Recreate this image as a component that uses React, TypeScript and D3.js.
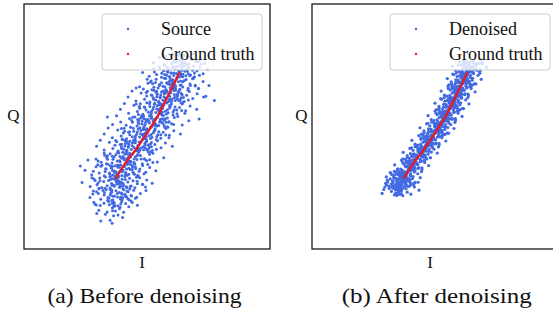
import React from 'react'
import * as d3 from 'd3'

const W = 553
const H = 311

// ground truth curve (I, Q in 0..100 plot units)
const truthI = [37.4, 41.0, 45.8, 50.3, 54.6, 57.2, 59.3, 61.4, 63.0]
const truthQ = [29.4, 35.0, 41.3, 48.0, 54.9, 60.0, 64.3, 68.5, 71.8]

// noisy received samples, before denoising
const sourcePoints: [number, number][] = [
  [31.2,11.8],[35.0,12.1],[36.4,13.9],[33.1,14.5],[38.2,14.2],[29.6,14.8],[40.1,13.2],[35.8,10.9],
  [30.4,16.2],[33.8,15.4],[35.9,17.1],[37.2,15.9],[38.8,16.8],[40.5,15.3],[42.6,17.6],[34.7,18.4],[36.6,19.2],[38.1,18.0],[39.7,19.6],[41.3,18.9],[44.0,19.3],[32.5,19.0],[28.9,18.6],[36.0,16.0],[39.0,17.4],[46.1,18.2],
  [26.8,21.3],[29.5,23.7],[31.2,20.6],[32.6,22.4],[33.4,24.6],[34.5,21.0],[35.3,23.1],[36.1,20.3],[36.8,22.0],[37.4,24.1],[38.0,21.5],[38.7,23.4],[39.3,20.8],[39.9,22.7],[40.6,24.5],[41.2,21.9],[41.9,23.9],[42.7,20.4],[43.5,22.2],[44.6,24.3],[45.8,21.4],[47.3,23.0],[49.6,24.2],[30.5,24.9],[34.0,20.1],[37.9,23.0],[40.1,21.2],[35.6,24.0],[43.0,24.8],[28.0,22.8],
  [23.6,27.4],[26.9,25.8],[28.4,28.9],[29.7,26.5],[30.8,29.3],[31.6,25.4],[32.4,27.8],[33.1,29.7],[33.8,26.1],[34.4,28.3],[35.0,25.2],[35.6,27.0],[36.1,29.0],[36.7,25.9],[37.2,28.6],[37.8,26.7],[38.3,29.5],[38.8,25.5],[39.4,27.3],[39.9,28.8],[40.5,26.3],[41.0,29.9],[41.6,25.7],[42.2,27.6],[42.9,29.2],[43.6,26.0],[44.3,28.1],[45.1,25.3],[46.0,27.9],[47.0,29.4],[48.3,26.6],[49.9,28.5],[52.1,27.1],[32.9,25.1],[36.4,26.4],[40.2,27.1],[38.6,27.9],[35.2,28.7],[43.2,25.9],[30.1,27.2],[45.7,29.6],[34.9,29.9],
  [24.8,32.4],[27.5,30.6],[29.3,33.8],[30.6,31.3],[31.7,34.5],[32.6,30.2],[33.4,32.9],[34.1,34.9],[34.8,31.0],[35.4,33.3],[36.0,30.5],[36.6,32.1],[37.1,34.2],[37.7,30.9],[38.2,33.6],[38.8,31.7],[39.3,34.6],[39.8,30.3],[40.3,32.5],[40.9,33.9],[41.4,31.4],[42.0,34.8],[42.6,30.8],[43.2,32.7],[43.9,34.3],[44.6,31.1],[45.4,33.1],[46.2,30.4],[47.1,32.9],[48.2,34.4],[49.5,31.6],[51.1,33.5],[53.6,32.2],[22.9,34.1],[35.9,34.0],[38.5,30.0],[41.7,32.9],[36.9,31.5],[44.1,33.7],[33.0,31.9],[40.0,31.8],[45.0,34.9],[30.0,34.7],[50.3,34.8],[28.2,32.0],
  [26.0,36.6],[29.3,37.0],[31.4,35.7],[32.8,38.5],[34.0,36.9],[35.0,39.1],[35.8,35.4],[36.6,37.8],[37.3,38.7],[37.9,36.2],[38.5,39.4],[39.1,35.9],[39.7,37.3],[40.3,38.0],[40.8,36.6],[41.4,39.8],[41.9,35.2],[42.4,37.6],[43.0,38.3],[43.5,36.0],[44.1,39.0],[44.7,35.6],[45.3,37.9],[45.9,36.8],[46.6,39.7],[47.3,38.4],[48.1,35.1],[48.9,37.1],[49.9,36.3],[51.0,38.9],[52.4,39.3],[54.2,35.8],[56.8,37.5],[30.1,36.2],[39.0,38.0],[42.9,36.0],[46.0,38.4],[40.5,37.3],[44.8,37.0],[36.2,36.9],[50.5,39.9],[33.6,37.6],[47.6,37.0],[41.0,39.0],[38.0,39.7],
  [29.5,42.2],[32.6,40.6],[34.7,43.8],[36.1,41.3],[37.3,44.5],[38.3,40.2],[39.1,42.9],[39.9,44.9],[40.6,41.0],[41.2,43.3],[41.8,40.5],[42.4,42.1],[43.0,44.2],[43.6,40.9],[44.1,43.6],[44.7,41.7],[45.2,44.6],[45.7,40.3],[46.3,42.5],[46.8,43.9],[47.4,41.4],[48.0,44.8],[48.6,40.8],[49.2,42.7],[49.9,44.3],[50.6,41.1],[51.4,43.1],[52.2,40.4],[53.2,42.9],[54.3,44.4],[55.7,41.6],[57.5,43.5],[60.3,42.2],[31.0,44.6],[42.7,43.0],[46.1,41.0],[49.5,43.8],[44.0,42.4],[48.3,42.0],[39.6,41.9],[53.8,44.9],[37.0,42.6],[51.0,41.9],[45.0,44.0],[41.0,44.5],
  [32.6,47.2],[35.9,45.6],[38.1,48.8],[39.5,46.3],[40.7,49.5],[41.7,45.2],[42.5,47.9],[43.3,49.9],[44.0,46.0],[44.6,48.3],[45.2,45.5],[45.8,47.1],[46.4,49.2],[47.0,45.9],[47.5,48.6],[48.1,46.7],[48.6,49.6],[49.1,45.3],[49.7,47.5],[50.2,48.9],[50.8,46.4],[51.4,49.8],[52.0,45.8],[52.6,47.7],[53.3,49.3],[54.0,46.1],[54.8,48.1],[55.6,45.4],[56.6,47.9],[57.7,49.4],[59.1,46.6],[60.9,48.5],[63.6,47.2],[34.2,49.6],[46.1,48.0],[49.5,46.0],[52.9,48.4],[47.4,47.3],[51.7,47.0],[43.0,46.9],[57.2,49.9],[40.4,47.6],[54.4,46.9],[48.4,49.0],[44.4,49.5],
  [36.0,51.0],[39.3,52.0],[41.5,50.7],[42.9,53.5],[44.1,51.9],[45.1,54.1],[45.9,50.4],[46.7,52.8],[47.4,53.7],[48.0,51.2],[48.6,54.4],[49.2,50.9],[49.8,52.3],[50.4,53.0],[50.9,51.6],[51.5,54.8],[52.0,50.2],[52.5,52.6],[53.1,53.3],[53.6,51.0],[54.2,54.0],[54.8,50.6],[55.4,52.9],[56.0,51.8],[56.7,54.7],[57.4,53.4],[58.2,50.1],[59.0,52.1],[60.0,51.3],[61.1,53.9],[62.5,54.3],[64.3,50.8],[67.0,52.5],[37.6,54.6],[49.5,53.0],[52.9,51.0],[56.3,53.4],[50.8,52.3],[55.1,52.0],[46.4,51.9],[60.6,54.9],[43.8,52.6],[57.8,51.9],[51.8,54.0],[47.8,54.5],[71.2,53.3],[33.9,54.1],
  [39.2,57.2],[42.5,55.6],[44.7,58.8],[46.1,56.3],[47.3,59.5],[48.3,55.2],[49.1,57.9],[49.9,59.9],[50.6,56.0],[51.2,58.3],[51.8,55.5],[52.4,57.1],[53.0,59.2],[53.6,55.9],[54.1,58.6],[54.7,56.7],[55.2,59.6],[55.7,55.3],[56.3,57.5],[56.8,58.9],[57.4,56.4],[58.0,59.8],[58.6,55.8],[59.2,57.7],[59.9,59.3],[60.6,56.1],[61.4,58.1],[62.2,55.4],[63.2,57.9],[64.3,59.4],[65.7,56.6],[67.5,58.5],[70.2,57.2],[40.8,59.6],[52.7,58.0],[56.1,56.0],[59.5,58.4],[54.0,57.3],[58.3,57.0],[49.6,56.9],[63.8,59.9],[47.0,57.6],[61.0,56.9],[55.0,59.0],[51.0,59.5],[77.4,60.8],[73.9,62.5],
  [42.3,62.2],[45.5,60.6],[47.6,63.8],[49.0,61.3],[50.2,64.5],[51.2,60.2],[52.0,62.9],[52.8,64.9],[53.5,61.0],[54.1,63.3],[54.7,60.5],[55.3,62.1],[55.9,64.2],[56.5,60.9],[57.0,63.6],[57.6,61.7],[58.1,64.6],[58.6,60.3],[59.2,62.5],[59.7,63.9],[60.3,61.4],[60.9,64.8],[61.5,60.8],[62.1,62.7],[62.8,64.3],[63.5,61.1],[64.3,63.1],[65.1,60.4],[66.1,62.9],[67.2,64.4],[68.6,61.6],[70.4,63.5],[73.0,62.2],[43.9,64.6],[55.6,63.0],[59.0,61.0],[62.4,63.4],[56.9,62.3],[61.2,62.0],[52.5,61.9],[66.7,64.9],[49.9,62.6],[63.9,61.9],[57.9,64.0],[53.9,64.5],
  [45.6,65.9],[48.5,65.4],[50.4,67.8],[51.7,68.7],[52.8,66.2],[53.7,69.4],[54.5,65.9],[55.2,67.3],[55.9,68.0],[56.5,66.6],[57.1,69.8],[57.7,65.2],[58.3,67.6],[58.9,68.3],[59.4,66.0],[60.0,69.0],[60.5,65.6],[61.0,67.9],[61.6,66.8],[62.1,69.7],[62.7,68.4],[63.3,65.1],[63.9,67.1],[64.5,66.3],[65.2,68.9],[65.9,69.3],[66.7,65.8],[67.5,67.5],[68.5,69.6],[69.6,67.0],[71.0,65.7],[72.8,68.5],[75.2,66.9],[47.0,66.4],[58.0,68.0],[61.3,66.0],[64.6,68.4],[59.2,67.3],[63.5,67.0],[55.0,66.9],[68.9,69.9],[52.3,67.6],
  [48.2,72.2],[50.9,70.6],[52.7,73.8],[53.9,71.3],[55.0,74.5],[55.9,70.2],[56.7,72.9],[57.4,74.9],[58.0,71.0],[58.6,73.3],[59.2,70.5],[59.8,72.1],[60.4,74.2],[60.9,70.9],[61.5,73.6],[62.0,71.7],[62.5,74.6],[63.0,70.3],[63.5,72.5],[64.1,73.9],[64.6,71.4],[65.2,74.8],[65.8,70.8],[66.4,72.7],[67.0,74.3],[67.7,71.1],[68.5,73.1],[69.3,70.4],[70.3,72.9],[71.4,74.4],[72.8,71.6],[74.6,73.5],[61.0,72.0],[64.0,70.9],[58.2,72.6],[66.0,73.2],[62.8,73.0],[56.0,71.8],[69.0,74.7],[53.0,72.4],
  [52.6,76.1],[55.1,78.3],[56.8,75.4],[58.0,77.6],[59.1,79.5],[60.0,75.8],[60.8,77.0],[61.6,78.9],[62.3,76.4],[63.0,79.2],[63.6,75.2],[64.2,77.9],[64.9,79.1],[65.6,76.0],[66.3,78.5],[67.1,75.6],[68.0,77.3],[69.0,79.8],[70.2,76.7],[71.6,78.1],[73.4,75.9],[57.5,78.8],[62.0,79.6],[66.8,78.6],[60.5,80.0],
  // denser core of the cloud
  [39.3,18.7],[34.1,21.3],[36.9,17.9],[35.7,20.1],[43.7,22.0],[36.6,19.3],[39.3,20.6],[29.4,18.3],[41.7,21.6],[34.4,19.7],[36.3,17.6],[45.3,21.0],[35.8,19.0],[35.1,22.3],[39.9,20.4],[31.0,18.1],[42.2,20.8],[36.6,18.5],[36.2,21.8],[43.5,19.9],[39.3,21.4],[28.4,19.4],
  [35.8,26.3],[42.3,23.7],[38.7,27.1],[40.2,24.9],[30.2,23.0],[39.1,25.7],[35.7,24.4],[48.1,26.7],[32.7,23.4],[41.9,25.3],[39.5,27.4],[28.2,24.0],[40.1,26.0],[41.0,22.7],[35.0,24.6],[46.1,26.9],[32.1,24.2],[39.1,26.5],[39.6,23.2],[30.5,25.1],[35.7,23.6],[49.4,25.6],
  [41.2,28.7],[34.7,31.3],[38.3,27.9],[36.8,30.1],[46.8,32.0],[37.9,29.3],[41.3,30.6],[28.9,28.3],[44.3,31.6],[35.1,29.7],[37.5,27.6],[48.8,31.0],[36.9,29.0],[36.0,32.3],[42.0,30.4],[30.9,28.1],[44.9,30.8],[37.9,28.5],[37.4,31.8],[46.5,29.9],[41.3,31.4],[27.6,29.4],
  [38.8,36.3],[45.3,33.7],[41.7,37.1],[43.2,34.9],[33.2,33.0],[42.1,35.7],[38.7,34.4],[51.1,36.7],[35.7,33.4],[44.9,35.3],[42.5,37.4],[31.2,34.0],[43.1,36.0],[44.0,32.7],[38.0,34.6],[49.1,36.9],[35.1,34.2],[42.1,36.5],[42.6,33.2],[33.5,35.1],[38.7,33.6],[52.4,35.6],
  [46.2,38.7],[39.7,41.3],[43.3,37.9],[41.8,40.1],[51.8,42.0],[42.9,39.3],[46.3,40.6],[33.9,38.3],[49.3,41.6],[40.1,39.7],[42.5,37.6],[53.8,41.0],[41.9,39.0],[41.0,42.3],[47.0,40.4],[35.9,38.1],[49.9,40.8],[42.9,38.5],[42.4,41.8],[51.5,39.9],[46.3,41.4],[32.6,39.4],
  [45.3,46.3],[51.8,43.7],[48.2,47.1],[49.7,44.9],[39.7,43.0],[48.6,45.7],[45.2,44.4],[57.6,46.7],[42.2,43.4],[51.4,45.3],[49.0,47.4],[37.7,44.0],[49.6,46.0],[50.5,42.7],[44.5,44.6],[55.6,46.9],[41.6,44.2],[48.6,46.5],[49.1,43.2],[40.0,45.1],[45.2,43.6],[58.9,45.6],
  [53.2,48.7],[46.7,51.3],[50.3,47.9],[48.8,50.1],[58.8,52.0],[49.9,49.3],[53.3,50.6],[40.9,48.3],[56.3,51.6],[47.1,49.7],[49.5,47.6],[60.8,51.0],[48.9,49.0],[48.0,52.3],[54.0,50.4],[42.9,48.1],[56.9,50.8],[49.9,48.5],[49.4,51.8],[58.5,49.9],[53.3,51.4],[39.6,49.4],
  [51.8,56.3],[58.3,53.7],[54.7,57.1],[56.2,54.9],[46.2,53.0],[55.1,55.7],[51.7,54.4],[64.1,56.7],[48.7,53.4],[57.9,55.3],[55.5,57.4],[44.2,54.0],[56.1,56.0],[57.0,52.7],[51.0,54.6],[62.1,56.9],[48.1,54.2],[55.1,56.5],[55.6,53.2],[46.5,55.1],[51.7,53.6],[65.4,55.6],
  [59.2,58.7],[52.7,61.3],[56.3,57.9],[54.8,60.1],[64.8,62.0],[55.9,59.3],[59.3,60.6],[46.9,58.3],[62.3,61.6],[53.1,59.7],[55.5,57.6],[66.8,61.0],[54.9,59.0],[54.0,62.3],[60.0,60.4],[48.9,58.1],[62.9,60.8],[55.9,58.5],[55.4,61.8],[64.5,59.9],[59.3,61.4],[45.6,59.4],
  [57.3,66.3],[63.8,63.7],[60.2,67.1],[61.7,64.9],[51.7,63.0],[60.6,65.7],[57.2,64.4],[69.6,66.7],[54.2,63.4],[63.4,65.3],[61.0,67.4],[49.7,64.0],[61.6,66.0],[62.5,62.7],[56.5,64.6],[67.6,66.9],[53.6,64.2],[60.6,66.5],[61.1,63.2],[52.0,65.1],[57.2,63.6],[70.9,65.6],
  [63.7,68.7],[57.2,71.3],[60.8,67.9],[59.3,70.1],[69.3,72.0],[60.4,69.3],[63.8,70.6],[51.4,68.3],[66.8,71.6],[57.6,69.7],[60.0,67.6],[71.3,71.0],[59.4,69.0],[58.5,72.3],[64.5,70.4],[53.4,68.1],[67.4,70.8],[60.4,68.5],[59.9,71.8],[69.0,69.9],[63.8,71.4],[50.1,69.4],
  [61.2,76.3],[66.4,73.7],[63.6,77.1],[64.8,74.9],[56.8,73.0],[63.9,75.7],[61.2,74.4],[71.1,76.7],[58.8,73.4],[66.1,75.3],[64.2,77.4],[55.2,74.0],[64.7,76.0],[65.4,72.7],[60.6,74.6],[69.5,76.9],[58.3,74.2],[63.9,76.5],[64.3,73.2],[57.0,75.1],[61.2,73.6],[72.1,75.6],
]

// samples after denoising
const denoisedPoints: [number, number][] = [
  [35.2,24.1],[34.0,26.3],[35.6,22.6],[35.1,25.2],[38.7,23.5],[32.2,26.8],[34.5,22.2],[33.9,24.7],[39.4,25.9],[34.0,23.1],[30.3,26.5],[36.3,22.9],[34.0,24.4],[41.6,25.6],[32.3,23.8],[33.5,22.4],[32.8,26.1],[38.2,24.9],[35.0,23.3],[32.8,25.4],[40.2,22.7],[36.5,26.7],[36.3,24.0],[31.4,25.0],[35.1,23.6],[34.6,26.0],[36.9,22.1],[29.2,24.6],[37.5,25.8],[28.5,23.0],[41.4,26.4],[43.5,24.3],
  [37.0,29.9],[38.2,27.7],[36.6,31.4],[37.1,28.8],[33.5,30.5],[40.0,27.2],[37.7,31.8],[38.3,29.3],[32.8,28.1],[38.2,30.9],[41.9,27.5],[35.9,31.1],[38.2,29.6],[30.6,28.4],[39.9,30.2],[38.7,31.6],[39.4,27.9],[34.0,29.1],[37.2,30.7],[39.4,28.6],[32.0,31.3],[35.7,27.3],[35.9,30.0],[40.8,29.0],[37.1,30.4],[37.6,28.0],[35.3,31.9],[44.0,29.4],[34.7,28.2],[43.0,31.0],[30.8,27.6],[30.2,29.7],
  [34.4,27.0],[36.2,26.2],[33.2,29.8],[35.5,28.9],[37.8,27.1],[32.9,27.9],[36.8,28.4],[34.9,30.6],[33.7,26.4],[35.9,25.3],[38.9,26.0],[31.8,28.9],[36.4,29.7],[34.2,31.5],[37.3,25.6],[33.0,25.1],[39.6,28.7],[35.3,27.5],[32.4,30.7],[36.7,32.4],
  [40.5,34.1],[39.5,36.3],[40.8,32.6],[40.4,35.2],[43.4,33.5],[38.0,36.8],[39.9,32.2],[39.4,34.7],[44.0,35.9],[39.5,33.1],[36.4,36.5],[41.4,32.9],[39.5,34.4],[45.8,35.6],[38.1,33.8],[39.1,32.4],[38.5,36.1],[43.0,34.9],[40.3,33.3],[38.5,35.4],[44.7,32.7],[41.6,36.7],[41.4,34.0],[37.3,35.0],[40.4,33.6],[40.0,36.0],[41.9,32.1],[33.6,34.6],[42.4,35.8],[34.9,33.0],[45.7,36.4],[47.4,34.3],
  [44.0,39.9],[45.0,37.7],[43.7,41.4],[44.1,38.8],[41.1,40.5],[46.5,37.2],[44.6,41.8],[45.1,39.3],[40.5,38.1],[45.0,40.9],[48.1,37.5],[43.1,41.1],[45.0,39.6],[38.7,38.4],[46.4,40.2],[45.4,41.6],[46.0,37.9],[41.5,39.1],[44.2,40.7],[46.0,38.6],[39.8,41.3],[42.9,37.3],[43.1,40.0],[47.2,39.0],[44.1,40.4],[44.5,38.0],[42.6,41.9],[50.9,39.4],[42.1,38.2],[49.6,41.0],[38.8,37.6],[37.1,39.7],
  [47.5,44.1],[46.5,46.3],[47.8,42.6],[47.4,45.2],[50.4,43.5],[45.0,46.8],[46.9,42.2],[46.4,44.7],[51.0,45.9],[46.5,43.1],[43.4,46.5],[48.4,42.9],[46.5,44.4],[52.8,45.6],[45.1,43.8],[46.1,42.4],[45.5,46.1],[50.0,44.9],[47.3,43.3],[45.5,45.4],[51.7,42.7],[48.6,46.7],[48.4,44.0],[44.3,45.0],[47.4,43.6],[47.0,46.0],[48.9,42.1],[40.6,44.6],[49.4,45.8],[41.9,43.0],[52.7,46.4],[54.4,44.3],
  [50.8,49.9],[51.8,47.7],[50.5,51.4],[50.9,48.8],[47.9,50.5],[53.3,47.2],[51.4,51.8],[51.9,49.3],[47.3,48.1],[51.8,50.9],[54.9,47.5],[49.9,51.1],[51.8,49.6],[45.5,48.4],[53.2,50.2],[52.2,51.6],[52.8,47.9],[48.3,49.1],[51.0,50.7],[52.8,48.6],[46.6,51.3],[49.7,47.3],[49.9,50.0],[54.0,49.0],[50.9,50.4],[51.3,48.0],[49.4,51.9],[57.7,49.4],[48.9,48.2],[56.4,51.0],[45.6,47.6],[43.9,49.7],
  [54.1,54.1],[53.1,56.3],[54.4,52.6],[54.0,55.2],[57.0,53.5],[51.6,56.8],[53.5,52.2],[53.0,54.7],[57.6,55.9],[53.1,53.1],[50.0,56.5],[55.0,52.9],[53.1,54.4],[59.4,55.6],[51.7,53.8],[52.7,52.4],[52.1,56.1],[56.6,54.9],[53.9,53.3],[52.1,55.4],[58.3,52.7],[55.2,56.7],[55.0,54.0],[50.9,55.0],[54.0,53.6],[53.6,56.0],[55.5,52.1],[47.2,54.6],[56.0,55.8],[48.5,53.0],[59.3,56.4],[61.0,54.3],
  [56.9,59.9],[57.9,57.7],[56.6,61.4],[57.0,58.8],[54.0,60.5],[59.4,57.2],[57.5,61.8],[58.0,59.3],[53.4,58.1],[57.9,60.9],[61.0,57.5],[56.0,61.1],[57.9,59.6],[51.6,58.4],[59.3,60.2],[58.3,61.6],[58.9,57.9],[54.4,59.1],[57.1,60.7],[58.9,58.6],[52.7,61.3],[55.8,57.3],[56.0,60.0],[60.1,59.0],[57.0,60.4],[57.4,58.0],[55.5,61.9],[63.8,59.4],[55.0,58.2],[62.5,61.0],[51.7,57.6],[50.0,59.7],
  [59.4,64.1],[58.4,66.3],[59.7,62.6],[59.3,65.2],[62.3,63.5],[56.9,66.8],[58.8,62.2],[58.3,64.7],[62.9,65.9],[58.4,63.1],[55.3,66.5],[60.3,62.9],[58.4,64.4],[64.7,65.6],[57.0,63.8],[58.0,62.4],[57.4,66.1],[61.9,64.9],[59.2,63.3],[57.4,65.4],[63.6,62.7],[60.5,66.7],[60.3,64.0],[56.2,65.0],[59.3,63.6],[58.9,66.0],[60.8,62.1],[52.5,64.6],[61.3,65.8],[53.8,63.0],[64.6,66.4],[66.3,64.3],
  [61.9,69.9],[62.9,67.7],[61.6,71.4],[62.0,68.8],[59.0,70.5],[64.4,67.2],[62.5,71.8],[63.0,69.3],[58.4,68.1],[62.9,70.9],[66.0,67.5],[61.0,71.1],[62.9,69.6],[56.6,68.4],[64.3,70.2],[63.3,71.6],[63.9,67.9],[59.4,69.1],[62.1,70.7],[63.9,68.6],[57.7,71.3],[60.8,67.3],[61.0,70.0],[65.1,69.0],[62.0,70.4],[62.4,68.0],[60.5,71.9],[68.8,69.4],[60.0,68.2],[67.5,71.0],[56.7,67.6],[55.0,69.7],
  [64.0,74.1],[63.0,76.3],[64.3,72.6],[63.9,75.2],[66.9,73.5],[61.5,76.8],[63.4,72.2],[62.9,74.7],[67.5,75.9],[63.0,73.1],[59.9,76.5],[64.9,72.9],[63.0,74.4],[69.3,75.6],[61.6,73.8],[62.6,72.4],[62.0,76.1],[66.5,74.9],[63.8,73.3],[62.0,75.4],[68.2,72.7],[65.1,76.7],[64.9,74.0],[60.8,75.0],[63.9,73.6],[63.5,76.0],[65.4,72.1],[57.1,74.6],[65.9,75.8],[58.4,73.0],[69.2,76.4],[70.9,74.3],
  // second pass along the band
  [32.9,25.4],[39.8,28.2],[35.3,26.7],[39.0,29.1],[31.3,25.9],[36.7,27.6],[36.7,24.8],[32.9,27.3],[36.4,28.7],[40.1,26.4],[35.4,25.1],[34.4,28.0],[41.3,27.0],[37.8,29.4],[29.6,25.6],[39.0,28.4],[34.6,24.6],[34.2,26.5],[34.6,28.9],[38.6,26.1],[36.0,27.8],[36.0,25.0],[29.9,27.1],[38.3,28.5],[32.5,25.7],[43.1,27.5],[34.3,25.3],[33.4,29.2],[38.2,26.8],[35.4,26.2],
  [41.6,33.6],[34.9,30.8],[39.3,32.3],[35.7,29.9],[43.1,33.1],[37.9,31.4],[37.9,34.2],[41.6,31.7],[38.3,30.3],[34.7,32.6],[39.2,33.9],[40.1,31.0],[33.5,32.0],[36.9,29.6],[44.7,33.4],[35.7,30.6],[40.0,34.4],[40.3,32.5],[40.0,30.1],[36.1,32.9],[38.6,31.2],[38.6,34.0],[44.5,31.9],[36.4,30.5],[41.9,33.3],[31.8,31.5],[40.2,33.7],[41.1,29.8],[36.5,32.2],[39.2,32.8],
  [39.6,35.4],[45.4,38.2],[41.6,36.7],[44.7,39.1],[38.3,35.9],[42.8,37.6],[42.8,34.8],[39.6,37.3],[42.5,38.7],[45.6,36.4],[41.7,35.1],[40.9,38.0],[46.6,37.0],[43.7,39.4],[36.9,35.6],[44.7,38.4],[41.0,34.6],[40.7,36.5],[41.0,38.9],[44.4,36.1],[42.2,37.8],[42.2,35.0],[37.1,37.1],[44.1,38.5],[39.3,35.7],[48.1,37.5],[40.8,35.3],[40.0,39.2],[44.0,36.8],[41.7,36.2],
  [48.9,43.6],[43.1,40.8],[46.9,42.3],[43.8,39.9],[50.2,43.1],[45.7,41.4],[45.7,44.2],[48.9,41.7],[46.0,40.3],[42.9,42.6],[46.8,43.9],[47.6,41.0],[41.9,42.0],[44.8,39.6],[51.6,43.4],[43.8,40.6],[47.5,44.4],[47.8,42.5],[47.5,40.1],[44.1,42.9],[46.3,41.2],[46.3,44.0],[51.4,41.9],[44.4,40.5],[49.2,43.3],[40.4,41.5],[47.7,43.7],[48.5,39.8],[44.5,42.2],[46.8,42.8],
  [47.0,45.4],[52.8,48.2],[49.0,46.7],[52.1,49.1],[45.7,45.9],[50.2,47.6],[50.2,44.8],[47.0,47.3],[49.9,48.7],[53.0,46.4],[49.1,45.1],[48.3,48.0],[54.0,47.0],[51.1,49.4],[44.3,45.6],[52.1,48.4],[48.4,44.6],[48.1,46.5],[48.4,48.9],[51.8,46.1],[49.6,47.8],[49.6,45.0],[44.5,47.1],[51.5,48.5],[46.7,45.7],[55.5,47.5],[48.2,45.3],[47.4,49.2],[51.4,46.8],[49.1,46.2],
  [55.6,53.6],[49.8,50.8],[53.6,52.3],[50.5,49.9],[56.9,53.1],[52.4,51.4],[52.4,54.2],[55.6,51.7],[52.7,50.3],[49.6,52.6],[53.5,53.9],[54.3,51.0],[48.6,52.0],[51.5,49.6],[58.3,53.4],[50.5,50.6],[54.2,54.4],[54.5,52.5],[54.2,50.1],[50.8,52.9],[53.0,51.2],[53.0,54.0],[58.1,51.9],[51.1,50.5],[55.9,53.3],[47.1,51.5],[54.4,53.7],[55.2,49.8],[51.2,52.2],[53.5,52.8],
  [53.1,55.4],[58.9,58.2],[55.1,56.7],[58.2,59.1],[51.8,55.9],[56.3,57.6],[56.3,54.8],[53.1,57.3],[56.0,58.7],[59.1,56.4],[55.2,55.1],[54.4,58.0],[60.1,57.0],[57.2,59.4],[50.4,55.6],[58.2,58.4],[54.5,54.6],[54.2,56.5],[54.5,58.9],[57.9,56.1],[55.7,57.8],[55.7,55.0],[50.6,57.1],[57.6,58.5],[52.8,55.7],[61.6,57.5],[54.3,55.3],[53.5,59.2],[57.5,56.8],[55.2,56.2],
  [60.8,63.6],[55.0,60.8],[58.8,62.3],[55.7,59.9],[62.1,63.1],[57.6,61.4],[57.6,64.2],[60.8,61.7],[57.9,60.3],[54.8,62.6],[58.7,63.9],[59.5,61.0],[53.8,62.0],[56.7,59.6],[63.5,63.4],[55.7,60.6],[59.4,64.4],[59.7,62.5],[59.4,60.1],[56.0,62.9],[58.2,61.2],[58.2,64.0],[63.3,61.9],[56.3,60.5],[61.1,63.3],[52.3,61.5],[59.6,63.7],[60.4,59.8],[56.4,62.2],[58.7,62.8],
  [58.1,65.4],[63.9,68.2],[60.1,66.7],[63.2,69.1],[56.8,65.9],[61.3,67.6],[61.3,64.8],[58.1,67.3],[61.0,68.7],[64.1,66.4],[60.2,65.1],[59.4,68.0],[65.1,67.0],[62.2,69.4],[55.4,65.6],[63.2,68.4],[59.5,64.6],[59.2,66.5],[59.5,68.9],[62.9,66.1],[60.7,67.8],[60.7,65.0],[55.6,67.1],[62.6,68.5],[57.8,65.7],[66.6,67.5],[59.3,65.3],[58.5,69.2],[62.5,66.8],[60.2,66.2],
  [65.7,73.6],[59.9,70.8],[63.7,72.3],[60.6,69.9],[67.0,73.1],[62.5,71.4],[62.5,74.2],[65.7,71.7],[62.8,70.3],[59.7,72.6],[63.6,73.9],[64.4,71.0],[58.7,72.0],[61.6,69.6],[68.4,73.4],[60.6,70.6],[64.3,74.4],[64.6,72.5],[64.3,70.1],[60.9,72.9],[63.1,71.2],[63.1,74.0],[68.2,71.9],[61.2,70.5],[66.0,73.3],[57.2,71.5],[64.5,73.7],[65.3,69.8],[61.3,72.2],[63.6,72.8],
  [62.2,74.9],[64.2,76.2],[60.9,75.4],[65.4,77.1],[65.4,74.3],[62.2,76.8],[68.2,75.9],[64.3,74.6],[69.2,76.5],[59.5,75.1],[63.6,74.1],[63.3,76.0],[67.0,75.6],[64.8,74.5],[61.9,75.2],[63.4,74.8],
]

const seriesNames = ['Source', 'Denoised']
const truthName = 'Ground truth'
const captions = ['(a) Before denoising', '(b) After denoising']

const BLUE = '#4169e1'
const RED = '#dc1e2e'
const SERIF = '"Liberation Serif", "Times New Roman", serif'

const SIZE = 246
const TOP = 4

function Panel({ left, points, dot, name, caption, captionX, captionLen }: {
  left: number
  points: [number, number][]
  dot: number
  name: string
  caption: string
  captionX: number
  captionLen: number
}) {
  const x = d3.scaleLinear().domain([0, 100]).range([left, left + SIZE])
  const y = d3.scaleLinear().domain([0, 100]).range([TOP + SIZE, TOP])

  const truthLine = d3.line<number>()
    .x(i => x(truthI[i]))
    .y(i => y(truthQ[i]))
    .curve(d3.curveMonotoneX)

  const legendX = left + SIZE - 8 - 160
  const legendY = 14

  return (
    <g>
      {points.map((p, i) => (
        <circle key={i} cx={x(p[0])} cy={y(p[1])} r={dot} fill={BLUE} />
      ))}
      <path
        d={truthLine(truthI.map((_, i) => i)) || ''}
        fill="none"
        stroke={RED}
        strokeWidth={2.5}
        strokeLinecap="round"
      />

      {/* legend */}
      <rect x={legendX} y={legendY} width={160} height={56} rx={3}
        fill="#fff" fillOpacity={0.8} stroke="#cccccc" strokeWidth={1} />
      <circle cx={legendX + 26} cy={legendY + 15} r={1.2} fill={BLUE} />
      <circle cx={legendX + 26} cy={legendY + 40} r={1.2} fill={RED} />
      <text x={legendX + 59} y={legendY + 21} fontFamily={SERIF} fontSize={18} fill="#111">{name}</text>
      <text x={legendX + 59} y={legendY + 46} fontFamily={SERIF} fontSize={18} fill="#111">{truthName}</text>

      {/* frame */}
      <rect x={left} y={TOP} width={SIZE} height={245} fill="none" stroke="#1a1a1a" strokeWidth={1.3} />

      <text x={left - 10.5} y={121} textAnchor="middle" fontFamily={SERIF} fontSize={17} fill="#111">Q</text>
      <text x={left + 118} y={268} textAnchor="middle" fontFamily={SERIF} fontSize={17} fill="#111">I</text>

      <text x={captionX} y={303} textAnchor="middle" fontFamily={SERIF} fontSize={21}
        textLength={captionLen} lengthAdjust="spacingAndGlyphs" fill="#111">{caption}</text>
    </g>
  )
}

export default function App() {
  return (
    <svg width={W} height={H} style={{ position: 'fixed', left: 0, top: 0, background: '#fff' }}>
      <rect width={W} height={H} fill="#fff" />
      <Panel left={24} points={sourcePoints} dot={1.5} name={seriesNames[0]} caption={captions[0]} captionX={144.5} captionLen={194} />
      <Panel left={312} points={denoisedPoints} dot={1.6} name={seriesNames[1]} caption={captions[1]} captionX={436.7} captionLen={190} />
    </svg>
  )
}
